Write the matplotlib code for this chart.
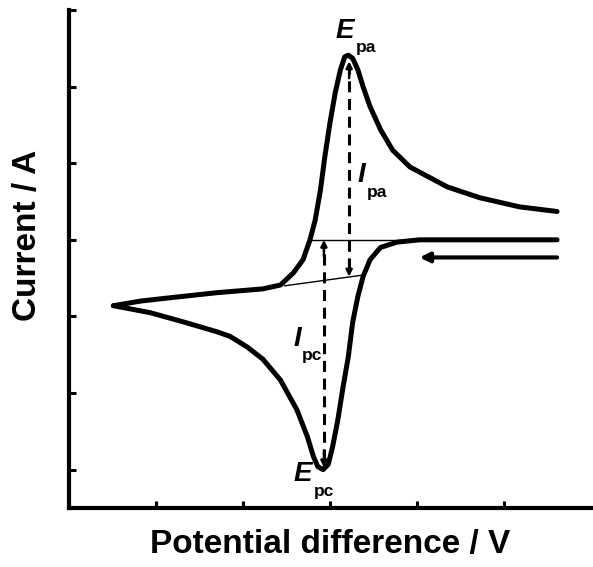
import matplotlib.pyplot as plt

plt.rcParams['font.family'] = ['Liberation Sans', 'DejaVu Sans']

# cathodic sweep, from the starting potential down to the switching potential
E_fwd = [5.61, 4.95, 4.38, 4.03, 3.77, 3.58, 3.46, 3.38, 3.32, 3.26, 3.21, 3.15,
         3.09, 3.03, 2.98, 2.92, 2.86, 2.81, 2.74, 2.62, 2.43, 2.23, 2.05, 1.85,
         1.70, 1.31, 0.93, 0.51]
I_fwd = [3.00, 3.00, 3.00, 3.00, 2.97, 2.90, 2.74, 2.52, 2.26, 1.92, 1.47, 1.08,
         0.65, 0.30, 0.07, 0.00, 0.04, 0.17, 0.43, 0.78, 1.17, 1.44, 1.60, 1.74,
         1.80, 1.93, 2.05, 2.14]

# anodic sweep back to the starting potential
E_rev = [0.51, 0.82, 1.13, 1.70, 2.23, 2.43, 2.58, 2.69, 2.77, 2.83, 2.89, 2.94,
         3.00, 3.06, 3.12, 3.17, 3.21, 3.26, 3.32, 3.38, 3.46, 3.58, 3.72, 3.92,
         4.35, 4.72, 5.18, 5.61]
I_rev = [2.14, 2.20, 2.24, 2.31, 2.36, 2.41, 2.57, 2.74, 3.00, 3.26, 3.65, 4.08,
         4.53, 4.92, 5.22, 5.39, 5.41, 5.37, 5.22, 5.00, 4.74, 4.44, 4.17, 3.95,
         3.69, 3.55, 3.43, 3.37]

# peak positions and baselines
E_pa, I_pa = 3.21, 5.41
E_pc, I_pc = 2.92, 0.00
base_c = ([2.77, 3.81], [3.00, 3.00])
base_a = ([2.48, 3.38], [2.40, 2.54])
I_base_a = 2.52
I_base_c = 3.00

fig = plt.figure(figsize=(5.93, 5.67), dpi=100)
ax = fig.add_axes([0.1164, 0.1041, 0.8802, 0.8783])

for E, I in [(E_fwd, I_fwd), (E_rev, I_rev)]:
    ax.plot(E, I, color='black', lw=3.6, solid_capstyle='round', solid_joinstyle='round')

ax.plot(*base_c, color='black', lw=1.0)
ax.plot(*base_a, color='black', lw=1.0)

# peak current markers (dashed, arrowheads at both ends)
dash = (0, (3.6, 2.2))
for x, y0, y1 in [(E_pa + 0.01, I_base_a, I_pa - 0.08), (E_pc + 0.01, I_pc + 0.03, I_base_c)]:
    ax.plot([x, x], [y0 + 0.1, y1 - 0.1], color='black', lw=2.2, linestyle=dash)
    for tip, back in [(y0, y0 + 0.22), (y1, y1 - 0.22)]:
        ax.annotate('', xy=(x, tip), xytext=(x, back),
                    arrowprops=dict(arrowstyle='-|>', color='black', lw=1.8,
                                    mutation_scale=9, shrinkA=0, shrinkB=0))

# scan direction
ax.annotate('', xy=(4.03, 2.77), xytext=(5.61, 2.77),
            arrowprops=dict(arrowstyle='-|>', color='black', lw=3.0,
                            mutation_scale=14, shrinkA=0, shrinkB=0))


def label(x, y, main, sub):
    t = ax.text(x, y, main, fontsize=20, fontweight='bold', fontstyle='italic',
                ha='center', va='center')
    ax.annotate(sub, xy=(1, 0), xycoords=t, xytext=(1, -3), textcoords='offset points',
                fontsize=12.5, fontweight='bold', ha='left', va='center')


label(3.17, 5.73, 'E', 'pa')
label(3.36, 3.84, 'I', 'pa')
label(2.62, 1.71, 'I', 'pc')
label(2.69, -0.06, 'E', 'pc')

ax.set_xlim(0, 6)
ax.set_ylim(-0.5, 6)
ax.set_xticks([1, 2, 3, 4, 5])
ax.set_yticks([0, 1, 2, 3, 4, 5, 6])
ax.tick_params(direction='in', length=5, width=2.2, labelbottom=False, labelleft=False)
for s in ['top', 'right']:
    ax.spines[s].set_visible(False)
for s in ['left', 'bottom']:
    ax.spines[s].set_linewidth(3)

fig.text(0.5565, 0.039, 'Potential difference / V', fontsize=24, fontweight='bold',
         ha='center', va='center')
fig.text(0.047, 0.585, 'Current / A', fontsize=24, fontweight='bold',
         ha='center', va='center', rotation=90)

fig.savefig('out.png', dpi=100)
